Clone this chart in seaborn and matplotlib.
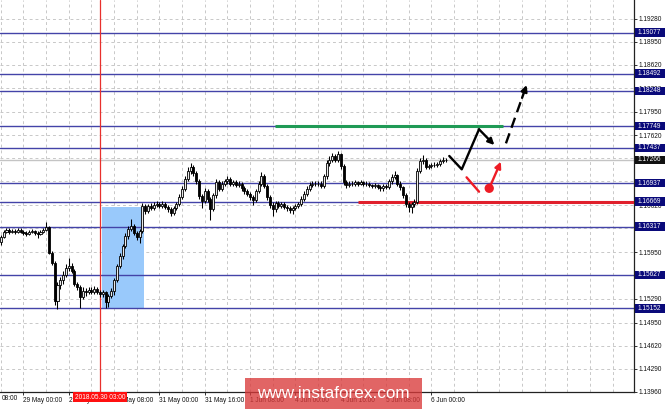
import numpy as np
import pandas as pd
import seaborn as sns
import matplotlib.pyplot as plt
import matplotlib.transforms as mtransforms
from matplotlib.patches import Rectangle

'''
EURUSD H1 chart with support / resistance levels and forecast arrows.
'''

# hourly bars, 28 May 16:00 -> 6 Jun 05:00 (weekend removed)
first_open = 1.1610
closes = [
    1.1617, 1.1624, 1.1627, 1.1624, 1.1625, 1.1624, 1.1627, 1.1624, 1.1623, 1.1621,
    1.1624, 1.1625, 1.1623, 1.1621, 1.1624, 1.1627, 1.1631, 1.1594, 1.1580, 1.1526,
    1.1548, 1.1555, 1.1563, 1.1572, 1.1576, 1.1569, 1.1550, 1.1546, 1.1531, 1.1540,
    1.1538, 1.1542, 1.1539, 1.1543, 1.1538, 1.1535, 1.1538, 1.1524, 1.1533, 1.1540,
    1.1555, 1.1576, 1.1590, 1.1604, 1.1618, 1.1628, 1.1632, 1.1623, 1.1617, 1.1625,
    1.1661, 1.1654, 1.1661, 1.1658, 1.1662, 1.1664, 1.1661, 1.1664, 1.1659, 1.1657,
    1.1651, 1.1658, 1.1664, 1.1674, 1.1685, 1.1699, 1.1711, 1.1716, 1.1708, 1.1696,
    1.1675, 1.1668, 1.1682, 1.1671, 1.1657, 1.1676, 1.1695, 1.1685, 1.1692, 1.1696,
    1.1699, 1.1693, 1.1695, 1.1691, 1.1692, 1.1686, 1.1682, 1.1678, 1.1674, 1.1669,
    1.1682, 1.1692, 1.1703, 1.1689, 1.1674, 1.1662, 1.1657, 1.1665, 1.1661, 1.1664,
    1.1659, 1.1658, 1.1655, 1.1658, 1.1661, 1.1664, 1.1671, 1.1678, 1.1685, 1.1691,
    1.1693, 1.1692, 1.1693, 1.1689, 1.1703, 1.1722, 1.1727, 1.1732, 1.1727, 1.1735,
    1.1718, 1.1695, 1.1691, 1.1693, 1.1692, 1.1695, 1.1693, 1.1695, 1.1692, 1.1693,
    1.1691, 1.1689, 1.1691, 1.1688, 1.1686, 1.1689, 1.1688, 1.1696, 1.1702, 1.1705,
    1.1693, 1.1688, 1.1676, 1.1664, 1.1659, 1.1664, 1.1667, 1.1711, 1.1725, 1.1727,
    1.1716, 1.1718, 1.1719, 1.1720, 1.1721, 1.1725, 1.1727, 1.17266,
]
highs = [
    1.1620, 1.1627, 1.1630, 1.1629, 1.1628, 1.1628, 1.1629, 1.1630, 1.1627, 1.1626,
    1.1627, 1.1628, 1.1627, 1.1625, 1.1627, 1.1630, 1.1638, 1.1633, 1.1597, 1.1582,
    1.1552, 1.1560, 1.1568, 1.1578, 1.1587, 1.1580, 1.1571, 1.1553, 1.1549, 1.1545,
    1.1544, 1.1546, 1.1545, 1.1547, 1.1546, 1.1541, 1.1542, 1.1540, 1.1536, 1.1544,
    1.1558, 1.1579, 1.1594, 1.1607, 1.1622, 1.1633, 1.1642, 1.1636, 1.1626, 1.1628,
    1.1665, 1.1664, 1.1664, 1.1665, 1.1666, 1.1668, 1.1667, 1.1668, 1.1666, 1.1662,
    1.1660, 1.1661, 1.1667, 1.1678, 1.1690, 1.1704, 1.1716, 1.1722, 1.1719, 1.1711,
    1.1700, 1.1678, 1.1686, 1.1685, 1.1674, 1.1680, 1.1699, 1.1698, 1.1696, 1.1700,
    1.1703, 1.1702, 1.1698, 1.1698, 1.1696, 1.1695, 1.1689, 1.1685, 1.1681, 1.1677,
    1.1685, 1.1696, 1.1709, 1.1706, 1.1692, 1.1677, 1.1666, 1.1668, 1.1668, 1.1667,
    1.1667, 1.1662, 1.1661, 1.1661, 1.1664, 1.1667, 1.1675, 1.1682, 1.1689, 1.1695,
    1.1697, 1.1696, 1.1697, 1.1696, 1.1707, 1.1726, 1.1732, 1.1736, 1.1735, 1.1740,
    1.1737, 1.1721, 1.1698, 1.1697, 1.1696, 1.1698, 1.1697, 1.1698, 1.1697, 1.1696,
    1.1695, 1.1693, 1.1694, 1.1693, 1.1691, 1.1692, 1.1692, 1.1700, 1.1706, 1.1711,
    1.1707, 1.1696, 1.1690, 1.1679, 1.1667, 1.1667, 1.1671, 1.1715, 1.1730, 1.1733,
    1.1729, 1.1721, 1.1722, 1.1723, 1.1724, 1.1728, 1.1731, 1.1730,
]
lows = [
    1.1606, 1.1615, 1.1622, 1.1621, 1.1622, 1.1621, 1.1622, 1.1622, 1.1620, 1.1618,
    1.1619, 1.1622, 1.1619, 1.1615, 1.1619, 1.1622, 1.1625, 1.1592, 1.1577, 1.1520,
    1.1514, 1.1543, 1.1550, 1.1560, 1.1568, 1.1565, 1.1547, 1.1542, 1.1516, 1.1528,
    1.1533, 1.1535, 1.1536, 1.1536, 1.1535, 1.1531, 1.1532, 1.1516, 1.1517, 1.1530,
    1.1534, 1.1552, 1.1572, 1.1586, 1.1601, 1.1614, 1.1625, 1.1620, 1.1612, 1.1608,
    1.1622, 1.1650, 1.1651, 1.1655, 1.1655, 1.1659, 1.1658, 1.1658, 1.1656, 1.1653,
    1.1647, 1.1648, 1.1655, 1.1661, 1.1671, 1.1682, 1.1696, 1.1707, 1.1704, 1.1692,
    1.1671, 1.1658, 1.1665, 1.1667, 1.1641, 1.1654, 1.1673, 1.1682, 1.1682, 1.1689,
    1.1693, 1.1690, 1.1690, 1.1688, 1.1688, 1.1683, 1.1678, 1.1675, 1.1670, 1.1663,
    1.1666, 1.1679, 1.1689, 1.1686, 1.1670, 1.1658, 1.1647, 1.1653, 1.1658, 1.1658,
    1.1656, 1.1654, 1.1651, 1.1650, 1.1655, 1.1658, 1.1661, 1.1668, 1.1675, 1.1682,
    1.1688, 1.1689, 1.1689, 1.1686, 1.1686, 1.1700, 1.1718, 1.1723, 1.1723, 1.1724,
    1.1714, 1.1691, 1.1686, 1.1688, 1.1689, 1.1689, 1.1690, 1.1691, 1.1689, 1.1689,
    1.1688, 1.1686, 1.1686, 1.1685, 1.1683, 1.1683, 1.1685, 1.1685, 1.1693, 1.1699,
    1.1690, 1.1684, 1.1672, 1.1660, 1.1652, 1.1651, 1.1660, 1.1664, 1.1708, 1.1721,
    1.1713, 1.1714, 1.1715, 1.1716, 1.1717, 1.1718, 1.1722, 1.1723,
]

# levels drawn on the chart
levels = [1.19077, 1.18492, 1.18248, 1.17749, 1.17437, 1.16937,
          1.16669, 1.16317, 1.15627, 1.15152]
current_price = 1.17266

price_ticks = [1.13960, 1.14290, 1.14620, 1.14950, 1.15290, 1.15620,
               1.15950, 1.16290, 1.16620, 1.16960, 1.17290, 1.17620,
               1.17950, 1.18290, 1.18620, 1.18950, 1.19280]
time_ticks = [8, 24, 40, 56, 72, 88, 104, 120, 136, 152]
time_labels = ['29 May 00:00', '29 May 16:00', '30 May 08:00', '31 May 00:00',
               '31 May 16:00', '1 Jun 08:00', '4 Jun 00:00', '4 Jun 16:00',
               '5 Jun 08:00', '6 Jun 00:00']
first_label = '08:00'
cursor_bar = 35
cursor_label = '2018.05.30 03:00'

# blue zone, green resistance, red support
zone_bars = [35.7, 50.5]
zone_prices = [1.1516, 1.1659]
green_bars = [96.8, 177.2]
green_price = 1.17749
red_bars = [126.0, 224.0]
red_price = 1.16669

# forecast drawings
path_bars = [158.3, 162.7, 168.8, 174.2]
path_prices = [1.17322, 1.17132, 1.17702, 1.17478]
break_bars = [178.3, 185.6]
break_prices = [1.17502, 1.18333]
red_stroke_bars = [164.4, 168.8]
red_stroke_prices = [1.17018, 1.16813]
red_dot = (172.4, 1.16862)
red_tip = (176.5, 1.17240)

##############################################################################

sns.set_theme(style='white')
plt.rcParams['font.family'] = ['Liberation Sans', 'DejaVu Sans']

fig = plt.figure(figsize=(6.65, 4.09), dpi=100)
ax = fig.add_axes([0, 17 / 409, 634 / 665, 392 / 409])
ax.set_xlim(-0.29, 223.5)
ax.set_ylim(1.1396, 1.19544)

# grid
grid_style = dict(color='#c8c8c8', lw=0.7, ls=(0, (3, 3)), zorder=0)
for p in price_ticks:
    ax.axhline(p, **grid_style)
for b in range(0, 224, 8):
    ax.axvline(b, **grid_style)

# blue zone
ax.add_patch(Rectangle((zone_bars[0], zone_prices[0]), zone_bars[1] - zone_bars[0],
                       zone_prices[1] - zone_prices[0], fc='#99c9fb', ec='none',
                       zorder=1))

# levels
ytrans = ax.get_yaxis_transform()
for lv in levels:
    ax.axhline(lv, color='#4343a8', lw=1.0, zorder=2)
ax.axhline(current_price, color='#c4c4c4', lw=1.0, zorder=2)

ax.plot(green_bars, [green_price] * 2, color='#1f9a55', lw=2.2, zorder=3,
        solid_capstyle='butt')
ax.plot(red_bars, [red_price] * 2, color='#e0202c', lw=2.2, zorder=3,
        solid_capstyle='butt')

# cursor line
ax.axvline(cursor_bar, color='#e8302c', lw=0.9, zorder=3)

# candles
df = pd.DataFrame({'high': highs, 'low': lows, 'close': closes})
df['open'] = [first_open] + closes[:-1]
df['bar'] = np.arange(len(df))
up = df[df.close >= df.open]
dn = df[df.close < df.open]
ax.vlines(df.bar, df.low, df.high, color='black', lw=0.75, zorder=4)
ax.bar(up.bar, (up.close - up.open).clip(lower=0.00007), bottom=up.open,
       width=0.72, color='#e8e8e8', edgecolor='black', lw=0.6, zorder=5)
ax.bar(dn.bar, dn.open - dn.close, bottom=dn.close, width=0.72,
       color='black', edgecolor='black', lw=0.6, zorder=5)

# forecast arrows
sns.lineplot(x=path_bars[:3], y=path_prices[:3], ax=ax, color='black', lw=1.7,
             sort=False, zorder=6)
ax.annotate('', xy=(path_bars[3], path_prices[3]),
            xytext=(path_bars[2], path_prices[2]),
            arrowprops=dict(arrowstyle='-|>', color='black', lw=1.7,
                            mutation_scale=9, shrinkA=0, shrinkB=0), zorder=6)
bx0, bx1 = break_bars
by0, by1 = break_prices
ax.plot([bx0, bx0 + 0.75 * (bx1 - bx0)], [by0, by0 + 0.75 * (by1 - by0)],
        color='black', lw=1.7, ls=(0, (4.5, 2.5)), zorder=6)
ax.annotate('', xy=(bx1, by1),
            xytext=(bx0 + 0.78 * (bx1 - bx0), by0 + 0.78 * (by1 - by0)),
            arrowprops=dict(arrowstyle='-|>', color='black', lw=1.7,
                            mutation_scale=9, shrinkA=0, shrinkB=0), zorder=6)
ax.plot(red_stroke_bars, red_stroke_prices, color='#ee1c25', lw=1.7, zorder=6)
sns.scatterplot(x=[red_dot[0]], y=[red_dot[1]], ax=ax, color='#ee1c25', s=45,
                edgecolor='none', zorder=7)
ax.annotate('', xy=red_tip, xytext=red_dot,
            arrowprops=dict(arrowstyle='-|>', color='#ee1c25', lw=1.7,
                            mutation_scale=9, shrinkA=0, shrinkB=0), zorder=6)

# axes / ticks
for side in ['top', 'left']:
    ax.spines[side].set_visible(False)
for side in ['right', 'bottom']:
    ax.spines[side].set_color('#222222')
    ax.spines[side].set_linewidth(0.9)
ax.yaxis.tick_right()
ax.set_yticks(price_ticks, ['%.5f' % p for p in price_ticks])
ax.set_xticks(time_ticks, time_labels)
ax.tick_params(axis='y', direction='out', length=2.5, width=0.6, pad=1,
               labelsize=4.7, colors='#111111', right=True)
ax.tick_params(axis='x', direction='out', length=2.5, width=0.6, pad=1.2,
               labelsize=4.7, colors='#111111', bottom=True)
for lbl in ax.get_xticklabels():
    lbl.set_horizontalalignment('left')
# the first time label only shows its hour part at the left edge
fig.text(2 / 665, 10 / 409, first_label, ha='left', va='center', fontsize=4.7,
         color='#111111')

# level price boxes on the right
box_h = 0.00125
for lv in levels:
    ax.add_patch(Rectangle((1.0015, lv - box_h / 2), 0.06, box_h, transform=ytrans,
                           fc='#0a0a7a', ec='none', clip_on=False, zorder=8))
    ax.text(1.006, lv, '%.5f' % lv, transform=ytrans, ha='left', va='center',
            fontsize=4.7, color='white', clip_on=False, zorder=9)
ax.add_patch(Rectangle((1.0015, current_price - box_h / 2), 0.06, box_h,
                       transform=ytrans, fc='#111111', ec='none', clip_on=False,
                       zorder=8))
ax.text(1.006, current_price, '%.5f' % current_price, transform=ytrans, ha='left',
        va='center', fontsize=4.7, color='white', clip_on=False, zorder=9)

# cursor time box
ax.text(cursor_bar, -0.004, cursor_label,
        transform=mtransforms.blended_transform_factory(ax.transData, ax.transAxes),
        ha='center', va='top', fontsize=4.7, color='white', clip_on=False,
        zorder=9, bbox=dict(boxstyle='square,pad=0.25', fc='#ff1010', ec='none'))

# watermark
fig.patches.append(Rectangle((245 / 665, 0), 177 / 665, 31 / 409,
                             transform=fig.transFigure, fc='#d93a3a', ec='none',
                             alpha=0.78, zorder=10))
fig.text(333.5 / 665, 15 / 409, 'www.instaforex.com', ha='center', va='center',
         fontsize=12.3, color='white', zorder=11)

fig.savefig('out.png', dpi=100)
